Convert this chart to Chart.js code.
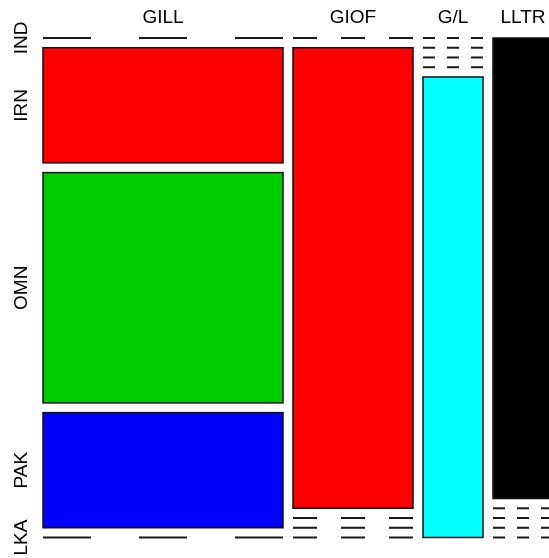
<!DOCTYPE html>
<html>
<head>
<meta charset="utf-8">
<script src="https://cdn.jsdelivr.net/npm/chart.js@4/dist/chart.umd.min.js"></script>
<style>
  html, body { margin: 0; padding: 0; background: #fff; }
  #wrap { width: 549px; height: 558px; }
</style>
</head>
<body>
<div id="wrap"><canvas id="chart-mosaic"></canvas></div>
<script>
// mosaic data: counts per column (category) for each country
const categories = ["GILL", "GIOF", "G/L", "LLTR"];
const countries = ["IND", "IRN", "OMN", "PAK", "LKA"];
const IND = [0, 0, 0, 1];
const IRN = [1, 2, 0, 0];
const OMN = [2, 0, 0, 0];
const PAK = [1, 0, 0, 0];
const LKA = [0, 0, 1, 0];
const countryColors = ["#000000", "#ff0000", "#00cd00", "#0000ff", "#00ffff"];

const rows = [IND, IRN, OMN, PAK, LKA];
const gapX = 10 / 480;   // gap between columns, as a share of the cell width
const gapY = 9.75 / 461; // gap between rows, as a share of the column height

// build mosaic cells in data units
const grand = rows.reduce((a, r) => a + r.reduce((s, v) => s + v, 0), 0);
const cells = [];
let x0 = 0;
categories.forEach((cat, c) => {
  const colTotal = rows.reduce((a, r) => a + r[c], 0);
  const w = colTotal / grand;
  let y0 = 0;
  rows.forEach((r, i) => {
    const h = r[c] / colTotal;
    cells.push({ col: c, row: i, x0, x1: x0 + w, y0, y1: y0 + h, zero: r[c] === 0 });
    y0 += h + gapY;
  });
  x0 += w + gapX;
});

const mosaicPlugin = {
  id: "mosaic",
  afterDatasetsDraw(chart) {
    const { ctx, scales: { x, y } } = chart;
    ctx.save();
    cells.forEach(cell => {
      const px0 = x.getPixelForValue(cell.x0);
      const px1 = x.getPixelForValue(cell.x1);
      const py0 = y.getPixelForValue(cell.y0);
      const py1 = y.getPixelForValue(cell.y1);
      if (cell.zero) {
        const seg = (px1 - px0) / 5;
        ctx.strokeStyle = "#1a1a1a";
        ctx.lineWidth = 2;
        ctx.setLineDash([seg, seg]);
        ctx.beginPath();
        ctx.moveTo(px0, py0);
        ctx.lineTo(px1, py0);
        ctx.stroke();
        ctx.setLineDash([]);
      } else {
        ctx.fillStyle = countryColors[cell.row];
        ctx.fillRect(px0, py0, px1 - px0, py1 - py0);
        ctx.strokeStyle = "#111";
        ctx.lineWidth = 1.5;
        ctx.strokeRect(px0, py0, px1 - px0, py1 - py0);
      }
    });

    // labels
    ctx.fillStyle = "#000";
    ctx.font = "19px 'Liberation Sans', Arial, sans-serif";
    ctx.textAlign = "center";
    ctx.textBaseline = "middle";
    categories.forEach((cat, c) => {
      const cc = cells.filter(k => k.col === c)[0];
      const cx = x.getPixelForValue((cc.x0 + cc.x1) / 2);
      ctx.fillText(cat, cx, 18);
    });
    countries.forEach((name, i) => {
      const cc = cells.filter(k => k.col === 0 && k.row === i)[0];
      const cy = y.getPixelForValue((cc.y0 + cc.y1) / 2);
      ctx.save();
      ctx.translate(22, cy);
      ctx.rotate(-Math.PI / 2);
      ctx.fillText(name, 0, 0);
      ctx.restore();
    });
    ctx.restore();
  }
};

new Chart(document.getElementById("chart-mosaic"), {
  type: "scatter",
  data: { datasets: [] },
  options: {
    responsive: true,
    maintainAspectRatio: false,
    animation: false,
    layout: { padding: { left: 43, top: 38, right: 0, bottom: 20.5 } },
    plugins: { legend: { display: false }, tooltip: { enabled: false } },
    scales: {
      x: { type: "linear", display: false, min: 0, max: (549 - 43) / 480 },
      y: { type: "linear", display: false, min: 0, max: 1 + 4 * gapY, reverse: true }
    }
  },
  plugins: [mosaicPlugin]
});
</script>
</body>
</html>
